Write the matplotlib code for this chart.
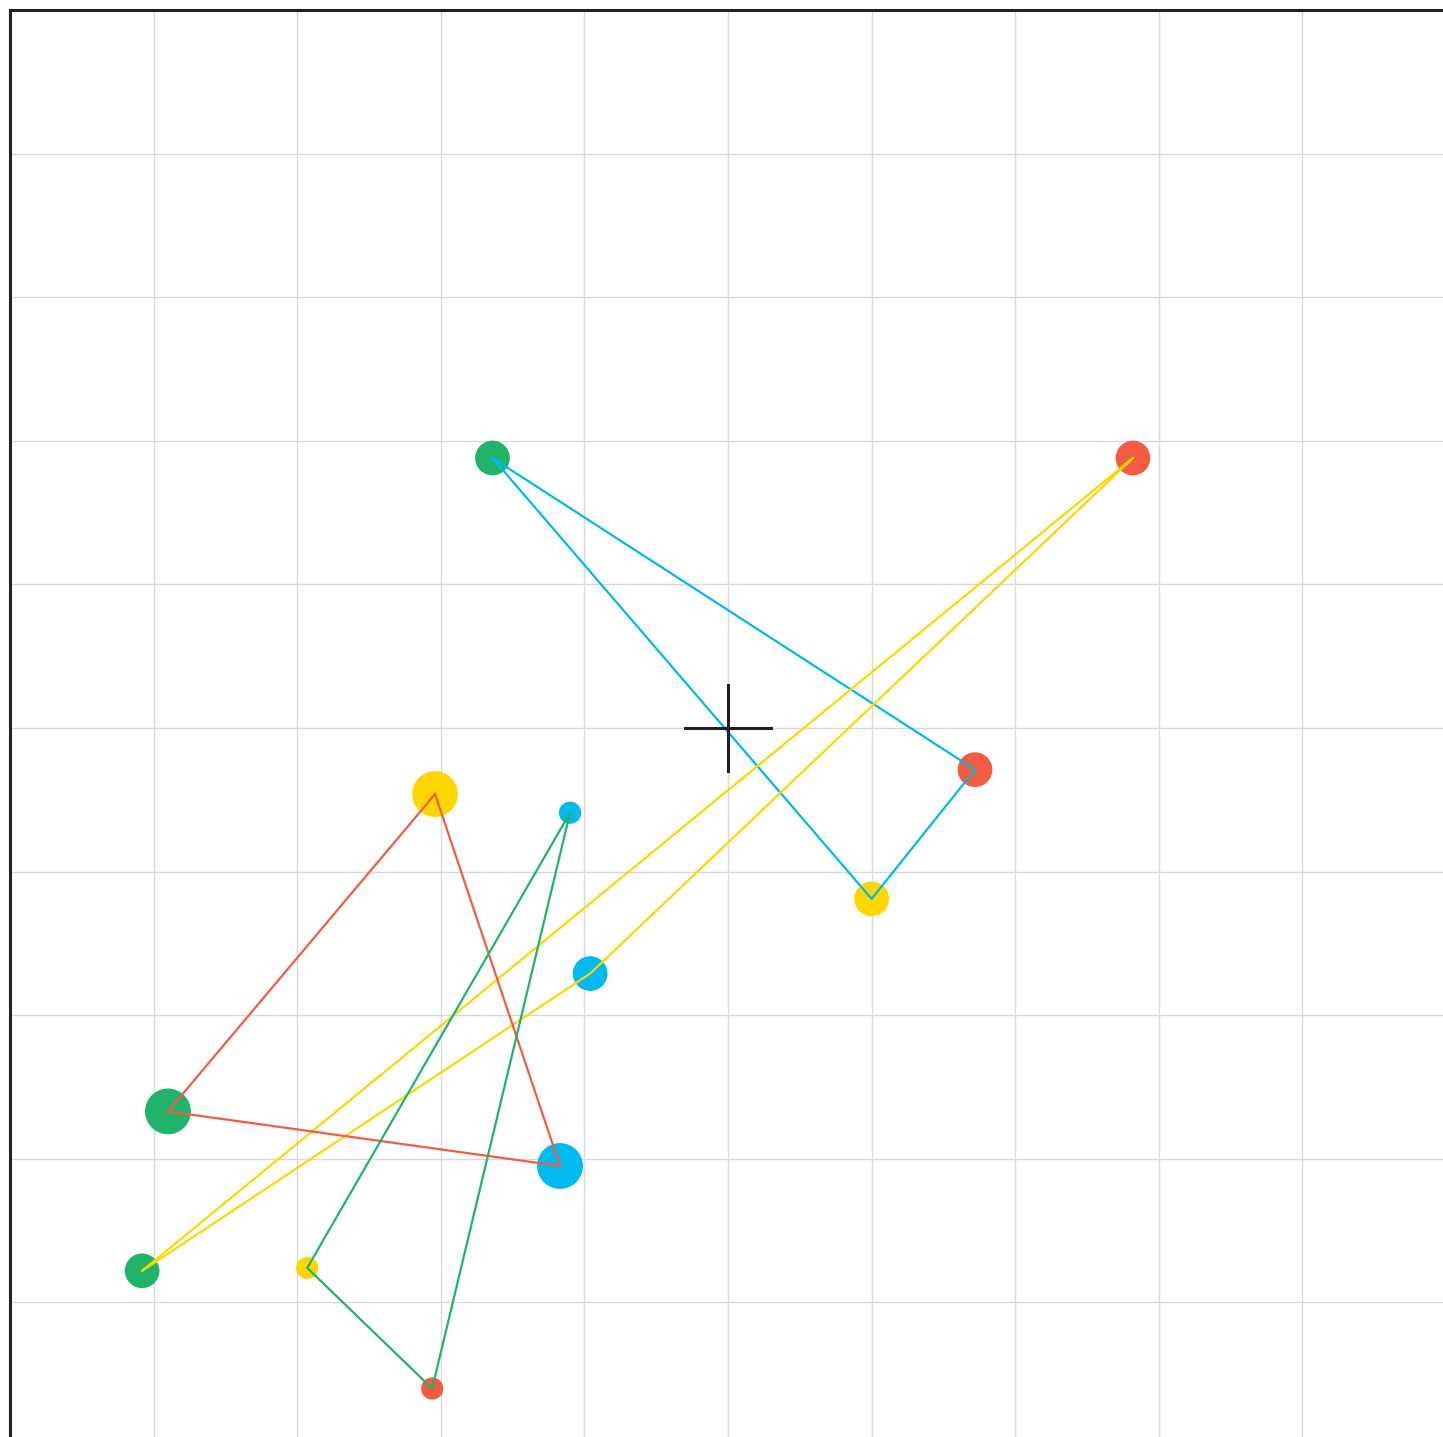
import matplotlib
matplotlib.use("Agg")
import matplotlib.pyplot as plt

GREEN = "#22b36b"
RED = "#f25c40"
YELLOW = "#ffd700"
CYAN = "#00b9ee"

# four triangles: line colour, vertex positions, vertex colours, marker size
tri_colors = [CYAN, YELLOW, RED, GREEN]
tri_x = [[-1.64, 1.72, 1.00],
         [2.82, -4.08, -0.96],
         [-2.04, -3.90, -1.17],
         [-1.10, -2.93, -2.06]]
tri_y = [[1.88, -0.29, -1.19],
         [1.88, -3.78, -1.71],
         [-0.46, -2.67, -3.05],
         [-0.59, -3.76, -4.60]]
vertex_colors = [[GREEN, RED, YELLOW],
                 [RED, GREEN, CYAN],
                 [YELLOW, GREEN, CYAN],
                 [CYAN, YELLOW, RED]]
marker_sizes = [25, 25, 33, 16]

fig = plt.figure(figsize=(14.43, 14.37), dpi=100)
ax = fig.add_axes([10 / 1443, (1437 - 1446) / 1437, 1436 / 1443, 1436 / 1437])
ax.set_xlim(-5, 5)
ax.set_ylim(-5, 5)

ax.set_xticks(range(-4, 5))
ax.set_yticks(range(-4, 5))
ax.grid(True, color="#d9d9d9", linewidth=1.0)
ax.tick_params(length=0, labelleft=False, labelbottom=False)
ax.set_axisbelow(True)
for side in ["right", "bottom"]:
    ax.spines[side].set_visible(False)
for side in ["left", "top"]:
    ax.spines[side].set_color("#222222")
    ax.spines[side].set_linewidth(2.2)

for c, xs, ys, vc, ms in zip(tri_colors, tri_x, tri_y, vertex_colors, marker_sizes):
    ax.scatter(xs, ys, s=ms ** 2, c=vc, edgecolors="none", zorder=2)
    ax.plot(xs + xs[:1], ys + ys[:1], color=c, linewidth=1.6, zorder=3)

# centre cross
ax.plot([-0.3, 0.3], [0, 0], color="#222222", linewidth=2.2, zorder=4)
ax.plot([0, 0], [-0.3, 0.3], color="#222222", linewidth=2.2, zorder=4)

fig.savefig("out.png", dpi=100)
